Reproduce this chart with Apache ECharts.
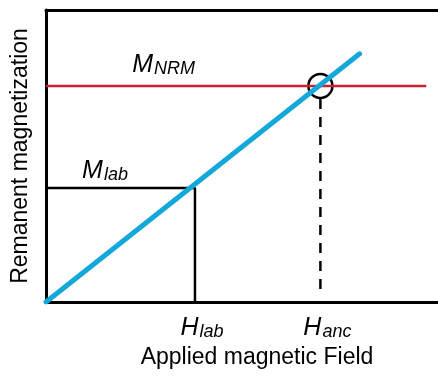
<!DOCTYPE html>
<html lang="en">
<head>
    <meta charset="UTF-8">
    <title></title>
    <script type="text/javascript" src="https://cdn.jsdelivr.net/npm/echarts@6/dist/echarts.min.js"></script>
    <style>html,body{margin:0;padding:0;background:#fff;}</style>
</head>
<body>
<div id="main" style="width: 438px;height: 376px"></div>
<script type="text/javascript">
    // values (arbitrary units)
    var fieldTicks = [3.8, 7.0];
    var fieldTickNames = ['lab', 'anc'];
    var calibLine = [[0, 0], [8.0, 8.5]];
    var nrmLine = [[0, 7.4], [9.7, 7.4]];
    var labBox = [[0, 3.9], [3.8, 3.9], [3.8, 0]];
    var ancDrop = [[7.0, 6.95], [7.0, 0.3]];
    var ancPoint = [[7.0, 7.4]];
    var mLabels = [
        {name: 'NRM', value: [2.2, 8.1]},
        {name: 'lab', value: [0.92, 4.5]}
    ];

    var font = 'Arial, "Liberation Sans", sans-serif';
    var myChart = echarts.init(document.getElementById('main'));
    var option = {
        animation: false,
        grid: {left: 46, right: 0, top: 10, bottom: 74},
        xAxis: [{
            type: 'value', min: 0, max: 10,
            splitLine: {show: false},
            axisLine: {lineStyle: {color: '#000', width: 3}},
            axisTick: {show: false},
            axisLabel: {
                customValues: fieldTicks,
                margin: 13,
                formatter: function (v) {
                    var i = fieldTicks.indexOf(v);
                    return '{h|H}{s|' + fieldTickNames[i] + '}';
                },
                rich: {
                    h: {fontSize: 25, fontStyle: 'italic', fontFamily: font, color: '#000', padding: [0, 0, 0, 14]},
                    s: {fontSize: 18, fontStyle: 'italic', fontFamily: font, color: '#000', padding: [8, 0, 0, 1]}
                }
            },
            name: 'Applied magnetic Field',
            nameLocation: 'middle',
            nameGap: 43,
            nameTextStyle: {fontSize: 23, fontFamily: font, color: '#000', padding: [0, 0, 0, 30]}
        }, {
            type: 'value', min: 0, max: 10, position: 'top',
            splitLine: {show: false},
            axisLine: {show: true, lineStyle: {color: '#000', width: 3}},
            axisTick: {show: false},
            axisLabel: {show: false}
        }],
        yAxis: {
            type: 'value', min: 0, max: 10,
            splitLine: {show: false},
            axisLine: {show: true, lineStyle: {color: '#000', width: 3}},
            axisTick: {show: false},
            axisLabel: {show: false},
            name: 'Remanent magnetization',
            nameLocation: 'middle',
            nameGap: 14,
            nameTextStyle: {fontSize: 23, fontFamily: font, color: '#000'}
        },
        series: [
            {
                type: 'line', data: labBox, symbol: 'none',
                lineStyle: {color: '#000', width: 2.5}
            },
            {
                type: 'line', data: nrmLine, symbol: 'none',
                lineStyle: {color: '#d01f2f', width: 2.5}
            },
            {
                type: 'line', data: ancDrop, symbol: 'none',
                lineStyle: {color: '#000', width: 2.5, type: [10, 8]}
            },
            {
                type: 'line', data: calibLine, symbol: 'none',
                lineStyle: {color: '#14a8da', width: 5, cap: 'round'}
            },
            {
                type: 'scatter', data: ancPoint, symbol: 'circle', symbolSize: 24,
                itemStyle: {color: 'rgba(0,0,0,0)', borderColor: '#000', borderWidth: 2.5, opacity: 1}
            },
            {
                type: 'scatter', data: mLabels, symbolSize: 0,
                itemStyle: {opacity: 1},
                label: {
                    show: true, position: 'right', distance: 0, opacity: 1,
                    formatter: function (p) { return '{m|M}{s|' + p.name + '}'; },
                    rich: {
                        m: {fontSize: 25, fontStyle: 'italic', fontFamily: font, color: '#000'},
                        s: {fontSize: 18, fontStyle: 'italic', fontFamily: font, color: '#000', padding: [8, 0, 0, 1]}
                    }
                }
            }
        ]
    };
    myChart.setOption(option);
</script>
</body>
</html>
